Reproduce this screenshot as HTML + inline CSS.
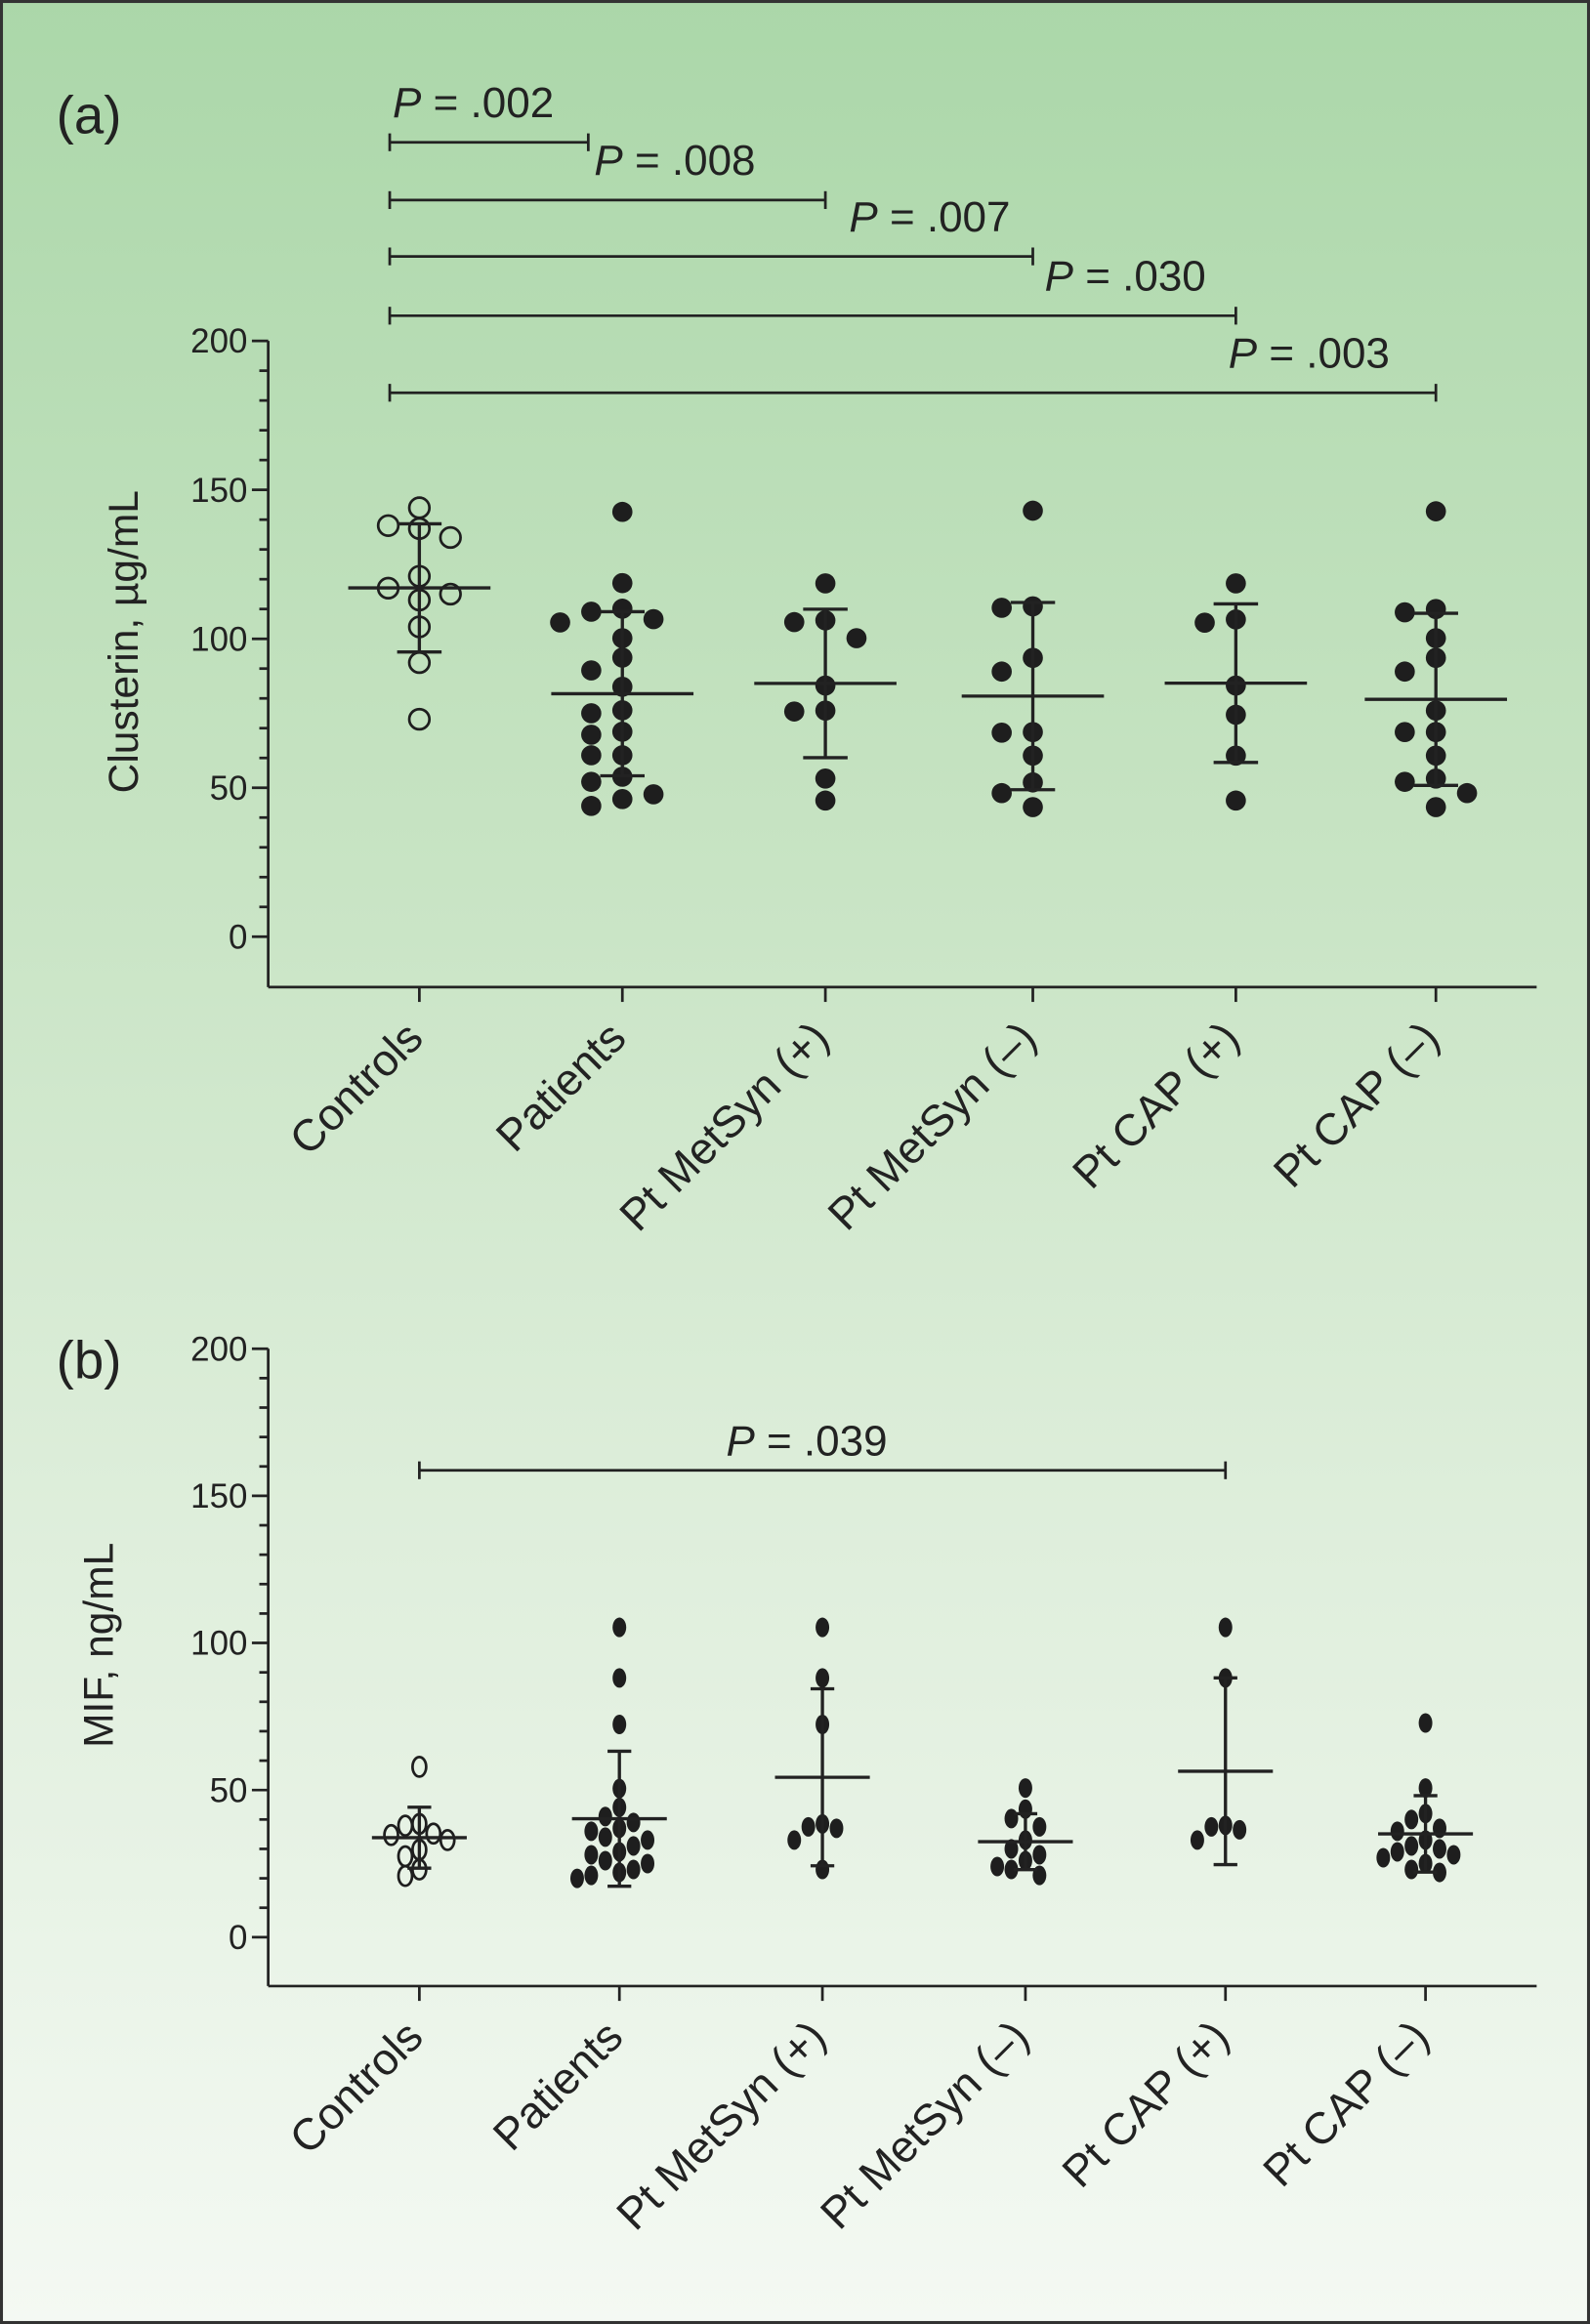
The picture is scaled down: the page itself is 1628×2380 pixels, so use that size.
<!DOCTYPE html>
<html><head><meta charset="utf-8"><style>
html,body{margin:0;padding:0}
svg{display:block}
text{font-family:"Liberation Sans",sans-serif;fill:#222}
</style></head><body>
<svg id="fig" width="1628" height="2380" viewBox="0 0 1073 1568" preserveAspectRatio="none" xmlns="http://www.w3.org/2000/svg">
<defs><linearGradient id="bg" x1="0" y1="0" x2="0" y2="1">
<stop offset="0" stop-color="#abd7a9"/><stop offset="0.35" stop-color="#c6e3c2"/><stop offset="0.65" stop-color="#deeedb"/><stop offset="1" stop-color="#f4f9f3"/></linearGradient></defs>
<rect x="1" y="1" width="1071" height="1566" fill="url(#bg)" stroke="#333" stroke-width="2"/>
<g id="root"></g>
</svg>
<script>
const categories = ["Controls","Patients","Pt MetSyn (+)","Pt MetSyn (\u2013)","Pt CAP (+)","Pt CAP (\u2013)"];
const yTicks = [0,50,100,150,200];
const clusterinControls = [144,138,137,134,121,117,115,113,104,92,73];
const clusterinPatients = [142.6,118.7,110.1,109.1,106.6,105.5,100.2,93.7,89.4,83.9,76,75,68.8,67.8,60.9,60.9,53.7,52,47.8,46.2,43.9];
const clusterinMetSynPos = [118.6,106.2,105.6,100.2,84.3,75.9,75.6,53.1,45.7];
const clusterinMetSynNeg = [143,110.9,110.4,93.6,89,68.7,68.5,60.8,51.8,48.2,43.5];
const clusterinCapPos = [118.6,106.5,105.4,84.3,74.5,60.8,45.7];
const clusterinCapNeg = [142.8,110,108.9,100.2,93.6,89,75.9,68.7,68.7,60.8,53.1,52,48.2,43.5];
const mifControls = [57.9,38.5,37.9,35.2,34.7,33,29.7,27.5,23,20.8];
const mifPatients = [105.3,88.1,72.3,50.5,44.1,41,39,37,36,34,33,31,29,28,26,25,23,22,21,20];
const mifMetSynPos = [105.3,88.1,72.3,38.5,37.5,37,33,23];
const mifMetSynNeg = [50.7,43.5,40.3,37.5,33,30,28,26,24,23,21];
const mifCapPos = [105.3,88.1,38,37.5,36.5,33];
const mifCapNeg = [72.8,50.7,42,40,37,36,33,31,30,29,28,27,25,23,22];
const pLabelsA = ["P = .002","P = .008","P = .007","P = .030","P = .003"];
const pTargetsA = [1,2,3,4,5];
const pLabelsB = ["P = .039"];
const pTargetsB = [4];

const NS="http://www.w3.org/2000/svg";
const root=document.getElementById('root');
function mk(tag,attrs,parent){const e=document.createElementNS(NS,tag);for(const k in attrs)e.setAttribute(k,attrs[k]);(parent||root).appendChild(e);return e;}

function panel(cfg){
  const g=mk('g',{});
  
  
  const y=v=>cfg.y0-(v/200)*(cfg.y0-cfg.y200);
  const x=i=>cfg.xs[i];
  const st={stroke:'#222','stroke-width':1.8,fill:'none'};
  const ya=mk('line',Object.assign({x1:181,y1:cfg.y200,x2:181,y2:cfg.axisY},st),g);
  
  
  const xa=mk('line',Object.assign({x1:181,y1:cfg.axisY,x2:1037,y2:cfg.axisY},st),g);
  
  
  for(let v=0;v<=200;v+=10){const maj=v%50===0;mk('line',Object.assign({x1:maj?170:175,y1:y(v),x2:181,y2:y(v)},st),g);}
  yTicks.forEach(v=>{const t=mk('text',{x:167,y:y(v)+8,'text-anchor':'end','font-size':23},g);t.textContent=v;
    
    });
  const yl=mk('text',{transform:`translate(${cfg.ylx},${cfg.yly}) rotate(-90)`,'text-anchor':'middle','font-size':28},g);
  yl.textContent=cfg.ylabel;
  
  
  const pl=mk('text',{x:38,y:cfg.letterY,'font-size':36},g);pl.textContent=cfg.letter;
  
  
  categories.forEach((c,i)=>{
    mk('line',Object.assign({x1:x(i),y1:cfg.axisY,x2:x(i),y2:cfg.axisY+10},st),g);
    const t=mk('text',{transform:`translate(${x(i)+4},${cfg.axisY+36}) rotate(-45)`,'text-anchor':'end','font-size':30},g);
    t.textContent=c;
    
    
  });
  cfg.series.forEach((vals,i)=>{
    const sg=mk('g',{},g);
    
    
    const placed=[];
    const sorted=vals.slice().sort((a,b)=>b-a);
    sorted.forEach(v=>{
      const py=y(v);let off=0;
      const order=[0,-1,1,-2,2,-3,3];
      for(const o of order){const px=x(i)+o*cfg.step;
        if(placed.every(p=>{const dx=(p[0]-px)/cfg.step,dy=(p[1]-py)/(cfg.ry*2);return dx*dx+dy*dy>=0.85;})){off=o;break;}}
      const px=x(i)+off*cfg.step;placed.push([px,py]);
      const open=i===0;
      const d=mk('ellipse',{cx:px,cy:py,rx:cfg.rx,ry:cfg.ry,fill:open?'none':'#1e1e1e',stroke:'#1e1e1e','stroke-width':open?1.8:0},sg);
      
      
    });
    const m=vals.reduce((a,b)=>a+b,0)/vals.length;
    const sd=Math.sqrt(vals.reduce((a,b)=>a+(b-m)*(b-m),0)/(vals.length-1));
    const lst={stroke:'#222','stroke-width':2.2};
    const ml=mk('line',Object.assign({x1:x(i)-cfg.mw,x2:x(i)+cfg.mw,y1:y(m),y2:y(m)},lst),sg);
    
    
    const eb=mk('line',Object.assign({x1:x(i),x2:x(i),y1:y(m+sd),y2:y(m-sd)},lst),sg);
    
    
    [m+sd,m-sd].forEach(v=>mk('line',Object.assign({x1:x(i)-cfg.cw,x2:x(i)+cfg.cw,y1:y(v),y2:y(v)},lst),sg));
  });
  cfg.pl.forEach((lab,k)=>{
    const by=cfg.bys[k],x1=cfg.bx0,x2=x(cfg.pt[k])-(k===0?cfg.firstTrim:0);
    const bg=mk('g',{},g);
    
    
    mk('line',Object.assign({x1:x1,x2:x2,y1:by,y2:by},st),bg);
    mk('line',Object.assign({x1:x1,x2:x1,y1:by-6,y2:by+6},st),bg);
    mk('line',Object.assign({x1:x2,x2:x2,y1:by-6,y2:by+6},st),bg);
    const t=mk('text',{x:cfg.lx[k],y:by-cfg.ld,'font-size':29},bg);
    const ts=mk('tspan',{'font-style':'italic'},t);ts.textContent='P';
    t.appendChild(document.createTextNode(lab.slice(1)));
    
    
  });
}
panel({name:'panel-a-clusterin',y0:632,y200:230,axisY:666,xs:[283,420,557,697,834,969],
  series:[clusterinControls,clusterinPatients,clusterinMetSynPos,clusterinMetSynNeg,clusterinCapPos,clusterinCapNeg],
  step:21,rx:6.8,ry:6.8,mw:48,cw:15,ylabel:'Clusterin, \u00b5g/mL',ylx:93,yly:433,letter:'(a)',letterY:90,
  pl:pLabelsA,pt:pTargetsA,bys:[96,135,173,213,265],bx0:263,firstTrim:23,lx:[265,401,573,705,829],ld:17});
panel({name:'panel-b-mif',y0:1307,y200:910,axisY:1340,xs:[283,418,555,692,827,962],
  series:[mifControls,mifPatients,mifMetSynPos,mifMetSynNeg,mifCapPos,mifCapNeg],
  step:9.5,rx:4.6,ry:6.6,mw:32,cw:8,ylabel:'MIF, ng/mL',ylx:76,yly:1110,letter:'(b)',letterY:930,
  pl:pLabelsB,pt:pTargetsB,bys:[992],bx0:283,firstTrim:0,lx:[490],ld:10});
</script>
</body></html>
